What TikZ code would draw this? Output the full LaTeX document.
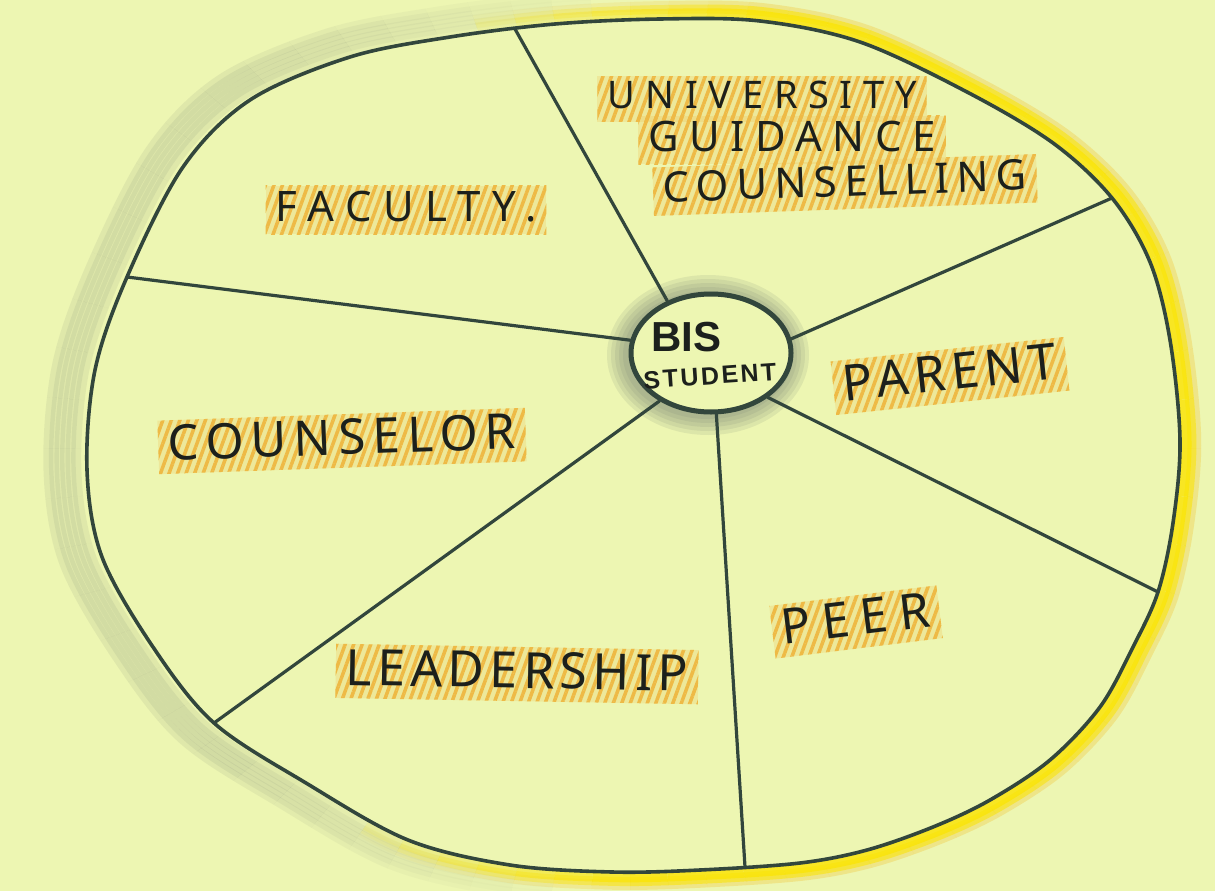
\documentclass[tikz,border=0pt]{standalone}
\usepackage{fontspec}
\setmainfont{Noto Sans}
\newfontfamily\hubfont{Liberation Sans}
\usetikzlibrary{shapes.geometric,patterns.meta}
\definecolor{bg}{RGB}{237,246,178}
\definecolor{ink}{RGB}{50,70,60}
\definecolor{txt}{RGB}{28,32,28}
\definecolor{hl}{RGB}{238,186,70}
\definecolor{shadowc}{RGB}{105,115,108}
\definecolor{glow}{RGB}{250,228,10}
\definecolor{glowb}{RGB}{242,190,40}
\newcommand{\wheelpath}{plot[smooth cycle, tension=0.55] coordinates {(350,57) (450,37) (555,24) (660,19) (760,21) (860,42) (967,92) (1053,143) (1112,198) (1150,262) (1170,340) (1180,440) (1173,523) (1158,592) (1133,647) (1100,707) (1050,760) (990,800) (933,827) (867,850) (800,863) (700,870) (612,872) (510,865) (408,840) (306,783) (214,723) (153,647) (102,557) (87,470) (95,370) (127,277) (183,167) (250,100)}}
\begin{document}
\begin{tikzpicture}[x=1pt,y=-1pt,
  wheel/.style={draw=ink, line width=3.6pt},
  spoke/.style={draw=ink, line width=3.2pt, line cap=round},
  hubstyle/.style={ellipse, draw=ink, line width=5pt, fill=bg, minimum width=160pt, minimum height=118pt},
  lbl/.style 2 args={font={\fontsize{#1}{#1}\selectfont\addfontfeatures{LetterSpace=#2}}, text=txt, inner xsep=10pt, inner ysep=5pt, text depth=8pt, preaction={fill=hl, fill opacity=0.22}, pattern={Lines[angle=70,distance=8pt,line width=3.5pt]}, pattern color=hl, fill opacity=0.5, text opacity=1},
  hubtxt/.style={text=txt, inner sep=2pt}
]
\useasboundingbox (0,0) rectangle (1215,891);
\fill[bg] (0,0) rectangle (1215,891);
% grey pencil shading on the left, fading out at both ends
\foreach \a in {95,100,...,265}{
  \pgfmathsetmacro\f{max(0,min(1,min((\a-95)/45,(265-\a)/45)))}
  \begin{scope}
  \clip (630,448) -- +(\a:1500) -- +(\a+5:1500) -- cycle;
  \foreach \s in {1.06,1.05,1.04,1.03,1.02,1.01}
    \draw[shadowc, line width=10pt, opacity=0.1*\f, scale around={\s:(640,448)}, xshift=-5pt] \wheelpath;
  \end{scope}
}
% yellow glow on the right, fading out at both ends
\foreach \a in {-115,-110,...,120}{
  \pgfmathsetmacro\f{max(0,min(1,min((\a+115)/40,(125-\a)/40)))}
  \begin{scope}
  \clip (630,448) -- +(\a:1500) -- +(\a+5:1500) -- cycle;
  \draw[glowb, line width=10pt, opacity=0.3*\f, scale around={1.03:(640,448)}] \wheelpath;
  \draw[glow, line width=9pt, opacity=0.6*\f, scale around={1.022:(640,448)}] \wheelpath;
  \draw[glow, line width=10pt, opacity=0.85*\f, scale around={1.012:(640,448)}] \wheelpath;
  \end{scope}
}
\draw[wheel] \wheelpath;
% outer spoke ends
\coordinate (o1) at (515,29);
\coordinate (o2) at (1112,198);
\coordinate (o3) at (1158,592);
\coordinate (o4) at (745,867);
\coordinate (o5) at (214,723);
\coordinate (o6) at (127,277);
% hub halo
\foreach \r in {20,16,12,8,4}
  \fill[shadowc, opacity=0.12] (708,355) ellipse [x radius=81+\r, y radius=60+\r];
\node[hubstyle] (hub) at (711,353) {};
\draw[spoke] (hub.130) -- (o1);
\draw[spoke] (hub.10) -- (o2);
\draw[spoke] (hub.-38) -- (o3);
\draw[spoke] (hub.-85) -- (o4);
\draw[spoke] (hub.-137) -- (o5);
\draw[spoke] (hub.171) -- (o6);
% labels
\node[lbl={38}{28}] (univ) at (762,99) {UNIVERSITY};
\node[lbl={42}{25}] (guid) at (792,140) {GUIDANCE};
\node[lbl={42}{18}, rotate=2] (couns) at (845,185) {COUNSELLING};
\node[lbl={42}{27}] (fac) at (406,210) {FACULTY.};
\node[lbl={50}{12}, rotate=6] (par) at (950,376) {PARENT};
\node[lbl={49}{15}, rotate=2] (coun) at (342,441) {COUNSELOR};
\node[lbl={49}{23}, rotate=7] (peer) at (856,622) {PEER};
\node[lbl={50}{11}, rotate=-1] (lead) at (517,674) {LEADERSHIP};
\node[hubtxt, font=\hubfont\bfseries\fontsize{42}{42}\selectfont] (bis) at (686,337) {BIS};
\node[hubtxt, font=\hubfont\bfseries\fontsize{25}{25}\selectfont\addfontfeatures{LetterSpace=10}, rotate=4] (stu) at (710,376) {STUDENT};
\end{tikzpicture}
\end{document}
